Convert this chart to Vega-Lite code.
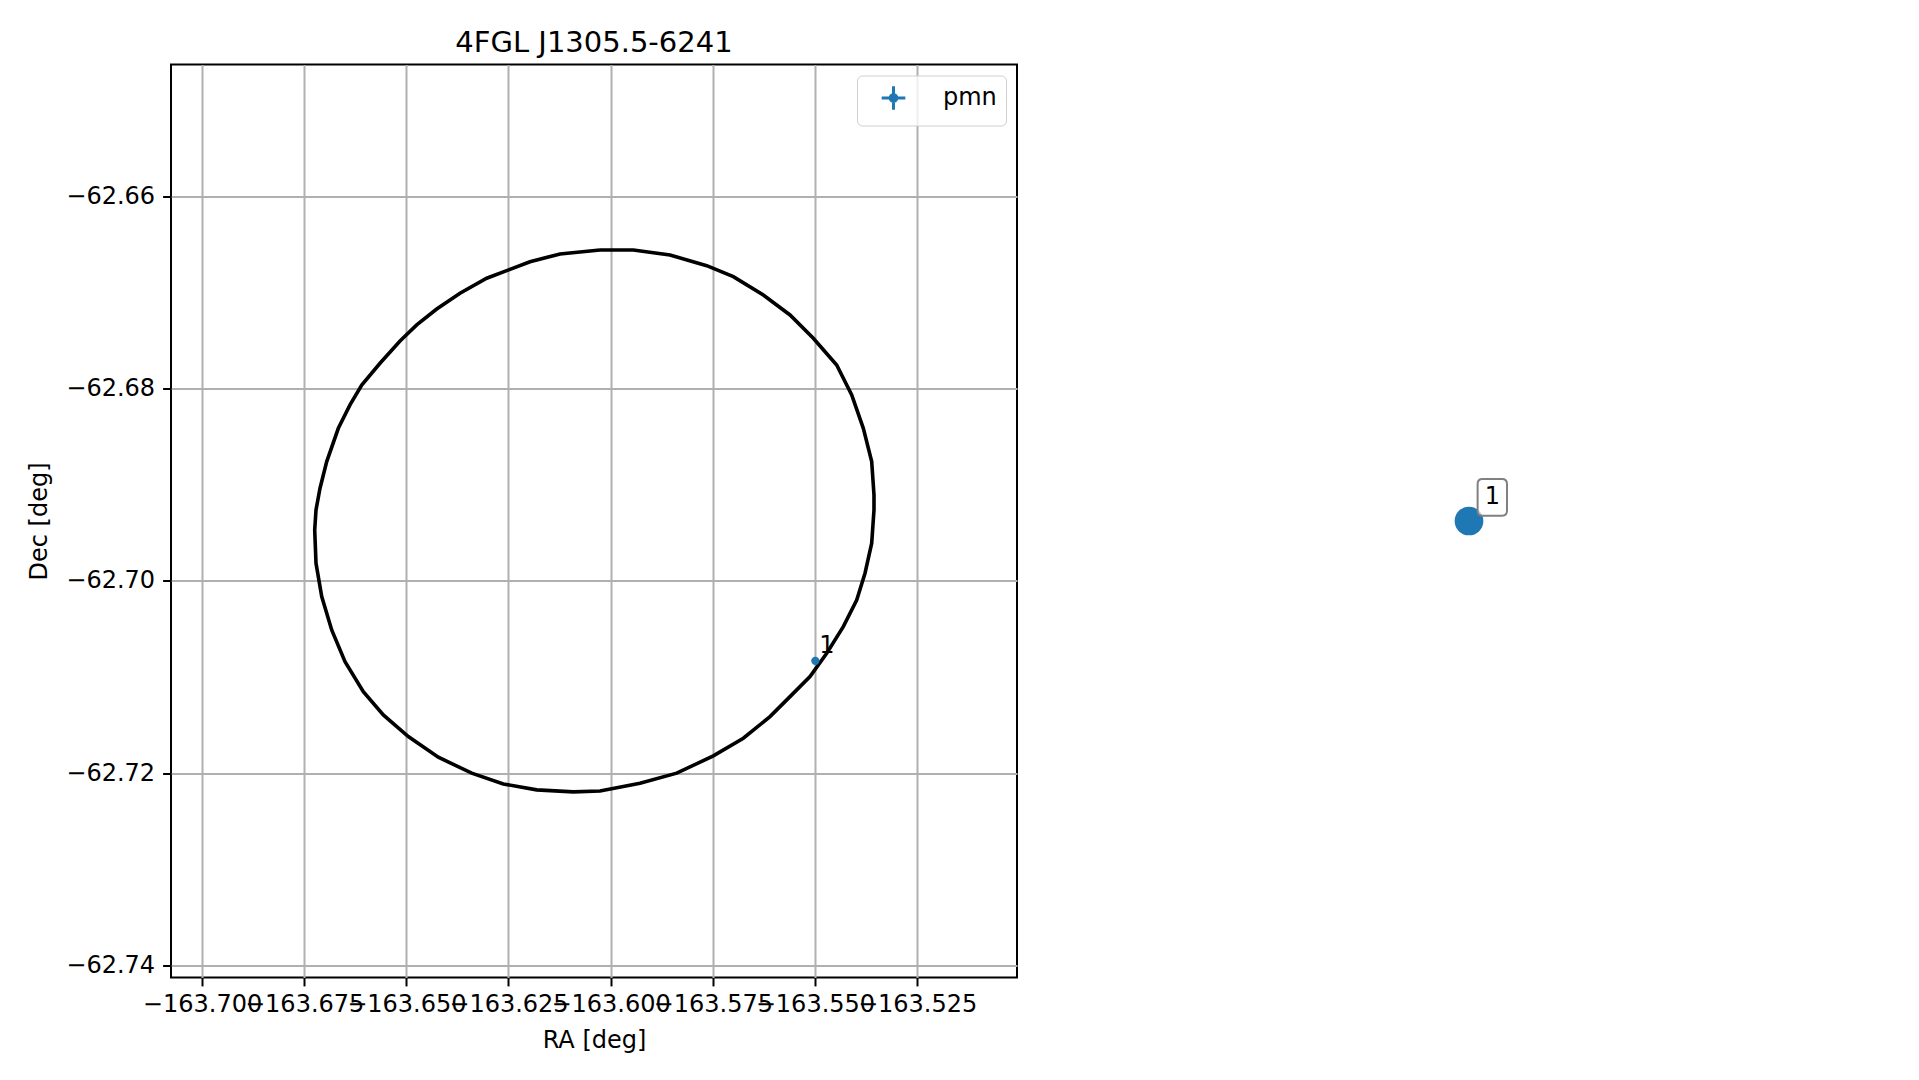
{
  "$schema": "https://vega.github.io/schema/vega-lite/v6.json",
  "autosize": {"type": "none"},
  "padding": {"left": 171, "top": 64.5, "right": 1748, "bottom": 1015.5},
  "background": "white",
  "spacing": 28,
  "resolve": {"legend": {"color": "independent"}},
  "config": {
    "font": "DejaVu Sans",
    "view": {"stroke": "#000000", "strokeWidth": 2},
    "axis": {
      "labelFont": "DejaVu Sans", "labelFontSize": 24, "labelColor": "#000000",
      "titleFont": "DejaVu Sans", "titleFontSize": 24, "titleFontWeight": "normal", "titleColor": "#000000",
      "tickColor": "#000000", "tickWidth": 2, "tickSize": 8.4,
      "domain": false, "grid": true, "gridColor": "#b0b0b0", "gridWidth": 2,
      "labelOverlap": false, "labelFlush": false, "labelBound": false
    }
  },
  "datasets": {
    "ellipse": [
      {"i": 0, "ra": -163.60259, "dec": -62.66555},
      {"i": 1, "ra": -163.61238, "dec": -62.66596},
      {"i": 2, "ra": -163.61973, "dec": -62.66677},
      {"i": 3, "ra": -163.62543, "dec": -62.66770},
      {"i": 4, "ra": -163.63032, "dec": -62.66849},
      {"i": 5, "ra": -163.63686, "dec": -62.67005},
      {"i": 6, "ra": -163.64256, "dec": -62.67169},
      {"i": 7, "ra": -163.64745, "dec": -62.67335},
      {"i": 8, "ra": -163.65154, "dec": -62.67502},
      {"i": 9, "ra": -163.65644, "dec": -62.67734},
      {"i": 10, "ra": -163.66091, "dec": -62.67960},
      {"i": 11, "ra": -163.66378, "dec": -62.68168},
      {"i": 12, "ra": -163.66664, "dec": -62.68411},
      {"i": 13, "ra": -163.66948, "dec": -62.68758},
      {"i": 14, "ra": -163.67112, "dec": -62.69035},
      {"i": 15, "ra": -163.67210, "dec": -62.69261},
      {"i": 16, "ra": -163.67242, "dec": -62.69469},
      {"i": 17, "ra": -163.67210, "dec": -62.69816},
      {"i": 18, "ra": -163.67070, "dec": -62.70163},
      {"i": 19, "ra": -163.66826, "dec": -62.70510},
      {"i": 20, "ra": -163.66500, "dec": -62.70840},
      {"i": 21, "ra": -163.66052, "dec": -62.71152},
      {"i": 22, "ra": -163.65563, "dec": -62.71395},
      {"i": 23, "ra": -163.64951, "dec": -62.71620},
      {"i": 24, "ra": -163.64217, "dec": -62.71835},
      {"i": 25, "ra": -163.63399, "dec": -62.72001},
      {"i": 26, "ra": -163.62626, "dec": -62.72113},
      {"i": 27, "ra": -163.61809, "dec": -62.72175},
      {"i": 28, "ra": -163.60913, "dec": -62.72196},
      {"i": 29, "ra": -163.60259, "dec": -62.72186},
      {"i": 30, "ra": -163.59280, "dec": -62.72105},
      {"i": 31, "ra": -163.58382, "dec": -62.72001},
      {"i": 32, "ra": -163.57486, "dec": -62.71821},
      {"i": 33, "ra": -163.56752, "dec": -62.71637},
      {"i": 34, "ra": -163.56099, "dec": -62.71412},
      {"i": 35, "ra": -163.55609, "dec": -62.71204},
      {"i": 36, "ra": -163.55120, "dec": -62.70996},
      {"i": 37, "ra": -163.54711, "dec": -62.70752},
      {"i": 38, "ra": -163.54305, "dec": -62.70476},
      {"i": 39, "ra": -163.53977, "dec": -62.70198},
      {"i": 40, "ra": -163.53774, "dec": -62.69920},
      {"i": 41, "ra": -163.53610, "dec": -62.69607},
      {"i": 42, "ra": -163.53554, "dec": -62.69261},
      {"i": 43, "ra": -163.53554, "dec": -62.69105},
      {"i": 44, "ra": -163.53610, "dec": -62.68758},
      {"i": 45, "ra": -163.53815, "dec": -62.68411},
      {"i": 46, "ra": -163.54099, "dec": -62.68064},
      {"i": 47, "ra": -163.54467, "dec": -62.67752},
      {"i": 48, "ra": -163.55039, "dec": -62.67474},
      {"i": 49, "ra": -163.55609, "dec": -62.67231},
      {"i": 50, "ra": -163.56263, "dec": -62.67023},
      {"i": 51, "ra": -163.56997, "dec": -62.66833},
      {"i": 52, "ra": -163.57648, "dec": -62.66718},
      {"i": 53, "ra": -163.58546, "dec": -62.66607},
      {"i": 54, "ra": -163.59444, "dec": -62.66555},
      {"i": 55, "ra": -163.60259, "dec": -62.66555}
    ],
    "src": [
      {"name": "pmn", "ra": -163.5499, "dec": -62.70832, "label": "1"}
    ],
    "side": [
      {"px": 1, "py": 1, "label": "1"}
    ]
  },
  "hconcat": [
    {
      "width": 846,
      "height": 913,
      "title": {"text": "4FGL J1305.5-6241", "font": "DejaVu Sans", "fontSize": 29, "fontWeight": "normal", "color": "#000000", "baseline": "bottom", "offset": -22, "anchor": "middle"},
      "layer": [
        {
          "data": {"name": "ellipse"},
          "mark": {"type": "line", "color": "#000000", "strokeWidth": 3.6, "clip": true},
          "encoding": {
            "x": {"field": "ra", "type": "quantitative",
                  "scale": {"domain": [-163.70759, -163.50054], "nice": false, "zero": false},
                  "axis": {"title": "RA [deg]", "values": [-163.7, -163.675, -163.65, -163.625, -163.6, -163.575, -163.55, -163.525], "format": ".3f", "labelPadding": 7, "titlePadding": 12}},
            "y": {"field": "dec", "type": "quantitative",
                  "scale": {"domain": [-62.74128, -62.64624], "nice": false, "zero": false},
                  "axis": {"title": "Dec [deg]", "values": [-62.74, -62.72, -62.70, -62.68, -62.66], "format": ".2f", "labelPadding": 8, "titlePadding": 14}},
            "order": {"field": "i", "type": "quantitative"}
          }
        },
        {
          "data": {"name": "src"},
          "transform": [{"filter": "false"}],
          "mark": {"type": "point", "filled": false, "fill": "#1f77b4", "strokeWidth": 3, "size": 560, "opacity": 1,
                   "shape": "M-1,0H1M0,-1V1M-0.28,0A0.28,0.28 0 1,0 0.28,0A0.28,0.28 0 1,0 -0.28,0Z"},
          "encoding": {
            "x": {"field": "ra", "type": "quantitative"},
            "y": {"field": "dec", "type": "quantitative"},
            "color": {"field": "name", "type": "nominal",
                      "scale": {"domain": ["pmn"], "range": ["#1f77b4"]},
                      "legend": {
                        "title": null, "orient": "top-right", "offset": 11, "padding": 9,
                        "symbolOffset": 14, "labelOffset": 36,
                        "labelFont": "DejaVu Sans", "labelFontSize": 24, "labelColor": "#000000",
                        "symbolType": "M-1,0H1M0,-1V1M-0.28,0A0.28,0.28 0 1,0 0.28,0A0.28,0.28 0 1,0 -0.28,0Z",
                        "symbolSize": 560, "symbolStrokeWidth": 3, "symbolStrokeColor": "#1f77b4", "symbolFillColor": "#1f77b4",
                        "strokeColor": "#d0d0d0", "fillColor": "rgba(255,255,255,0.8)", "cornerRadius": 5
                      }}
          }
        },
        {
          "data": {"name": "src"},
          "mark": {"type": "point", "filled": true, "size": 68, "opacity": 1, "color": "#1f77b4"},
          "encoding": {
            "x": {"field": "ra", "type": "quantitative"},
            "y": {"field": "dec", "type": "quantitative"}
          }
        },
        {
          "data": {"name": "src"},
          "mark": {"type": "text", "align": "left", "baseline": "alphabetic", "dx": 4, "dy": -8, "fontSize": 24, "font": "DejaVu Sans", "color": "#000000"},
          "encoding": {
            "x": {"field": "ra", "type": "quantitative"},
            "y": {"field": "dec", "type": "quantitative"},
            "text": {"field": "label"}
          }
        }
      ]
    },
    {
      "width": 846,
      "height": 913,
      "view": {"stroke": null},
      "data": {"name": "side"},
      "encoding": {
        "x": {"field": "px", "type": "quantitative", "scale": {"domain": [0, 2]}, "axis": null},
        "y": {"field": "py", "type": "quantitative", "scale": {"domain": [0, 2]}, "axis": null}
      },
      "layer": [
        {"mark": {"type": "circle", "size": 824, "color": "#1f77b4", "opacity": 1}},
        {"mark": {"type": "point", "shape": "M-0.53,-1H0.53Q0.8,-1 0.8,-0.73V0.73Q0.8,1 0.53,1H-0.53Q-0.8,1 -0.8,0.73V-0.73Q-0.8,-1 -0.53,-1Z", "size": 1347, "filled": true, "fill": "#ffffff", "fillOpacity": 0.7, "stroke": "#808080", "strokeWidth": 2, "opacity": 1, "xOffset": 23.3, "yOffset": -23.7}},
        {"mark": {"type": "text", "fontSize": 24, "font": "DejaVu Sans", "align": "center", "baseline": "alphabetic", "dx": 23.3, "dy": -16.7, "color": "#000000"},
         "encoding": {"text": {"field": "label"}}}
      ]
    }
  ]
}
